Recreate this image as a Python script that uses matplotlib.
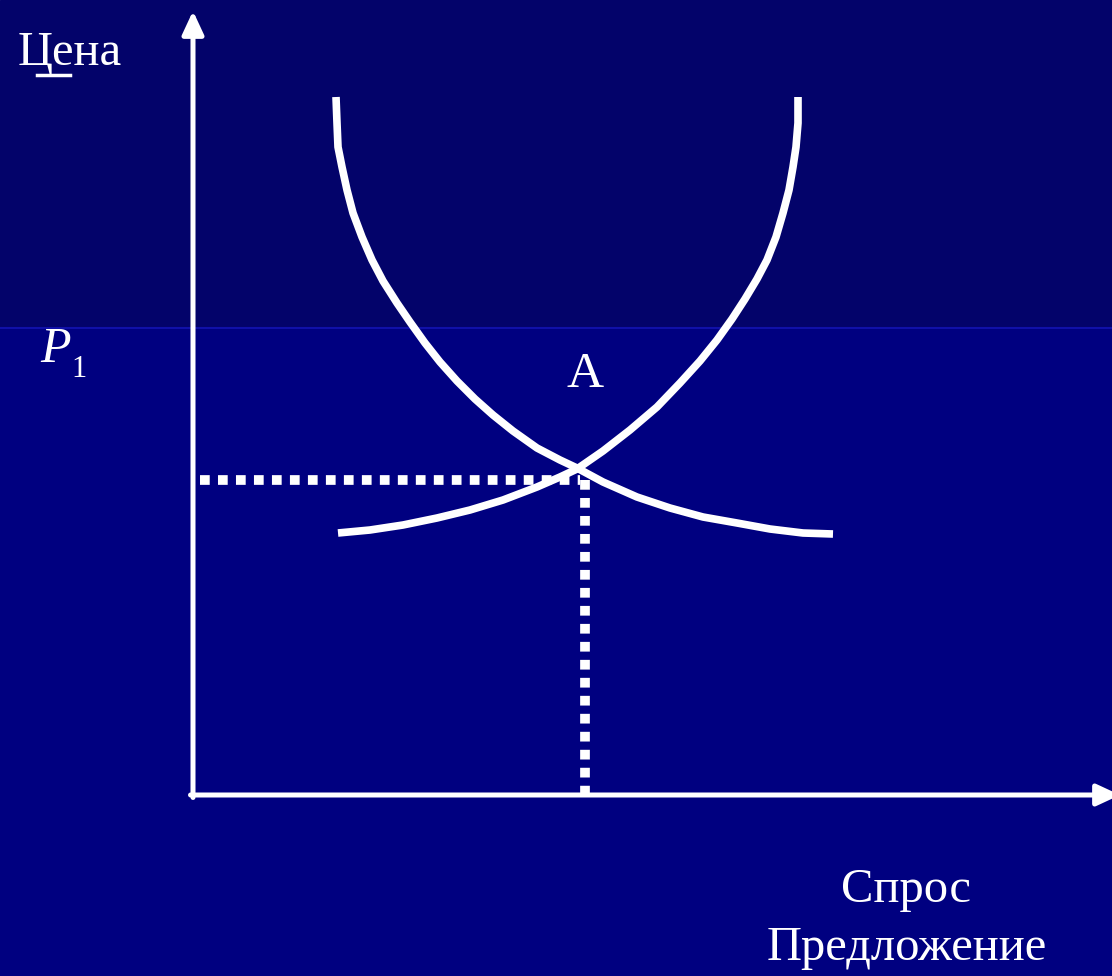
import numpy as np
import matplotlib.pyplot as plt

# curve points (pixel units, y grows downward)
demand_x = [336, 337, 338, 342, 347, 353, 362, 372, 383, 397, 410, 425, 440, 457,
            475, 493, 513, 537, 560, 577, 603, 637, 670, 703, 737, 770, 803, 833]
demand_y = [97, 123, 147, 167, 190, 213, 237, 260, 281, 303, 322, 343, 362, 381,
            399, 415, 431, 448, 460, 468, 482, 497, 508, 517, 523, 529, 533, 534]
supply_x = [338, 370, 403, 437, 470, 503, 537, 560, 577, 603, 630, 657, 680, 700,
            717, 732, 745, 757, 767, 776, 783, 789, 793, 796, 798, 798]
supply_y = [533, 530, 525, 518, 510, 500, 487, 477, 469, 451, 430, 407, 383, 361,
            340, 319, 299, 279, 260, 237, 213, 190, 167, 147, 123, 97]

q_eq = 585
p_eq = 480
origin = (193, 795)

bg_top = "#03036a"
bg_bottom = "#000080"
white = "white"

fig = plt.figure(figsize=(11.12, 9.76), dpi=100)
ax = fig.add_axes([0, 0, 1, 1])
ax.set_xlim(0, 1112)
ax.set_ylim(976, 0)
ax.axis("off")

# background: darker band on top, brighter below
ax.axhspan(0, 328, color=bg_top, zorder=0)
ax.axhspan(328, 976, color=bg_bottom, zorder=0)
ax.axhline(328, color="#1010a8", lw=1.5, zorder=0)

# axes with arrows
arrow = dict(arrowstyle="-|>,head_length=14,head_width=6.5", mutation_scale=1,
             lw=3.6, color=white, shrinkA=0, shrinkB=0)
ax.annotate("", xy=(origin[0], 11), xytext=(origin[0], origin[1] + 2.5),
            arrowprops=arrow, annotation_clip=False)
ax.annotate("", xy=(1120, origin[1]), xytext=(origin[0] - 2.5, origin[1]),
            arrowprops=arrow, annotation_clip=False)

# curves
ax.plot(demand_x, demand_y, color=white, lw=5.5, solid_capstyle="butt",
        solid_joinstyle="round", zorder=3)
ax.plot(supply_x, supply_y, color=white, lw=5.5, solid_capstyle="butt",
        solid_joinstyle="round", zorder=3)

# dotted guides to equilibrium
ax.plot([origin[0] + 7, q_eq - 5], [p_eq, p_eq], color=white, lw=7,
        linestyle=(0, (1, 0.85)), dash_capstyle="butt", zorder=2)
ax.plot([q_eq, q_eq], [p_eq, origin[1]], color=white, lw=7,
        linestyle=(0, (1, 0.85)), dash_capstyle="butt", zorder=2)

# labels
font = "Liberation Serif"
ax.text(18, 65, "Цена", color=white, fontsize=35, family=font, va="baseline")
ax.plot([37, 70], [74.5, 74.5], color=white, lw=2.5)
ax.text(40, 362, "P", color=white, fontsize=36, family=font, style="italic", va="baseline")
ax.text(71, 377, "1", color=white, fontsize=22, family=font, va="baseline")
ax.text(585, 387, "A", color=white, fontsize=37, family=font, ha="center", va="baseline")
ax.text(906, 902, "Спрос", color=white, fontsize=35, family=font, ha="center", va="baseline")
ax.text(907, 960, "Предложение", color=white, fontsize=35, family=font, ha="center", va="baseline")

fig.savefig("out.png", dpi=100)
